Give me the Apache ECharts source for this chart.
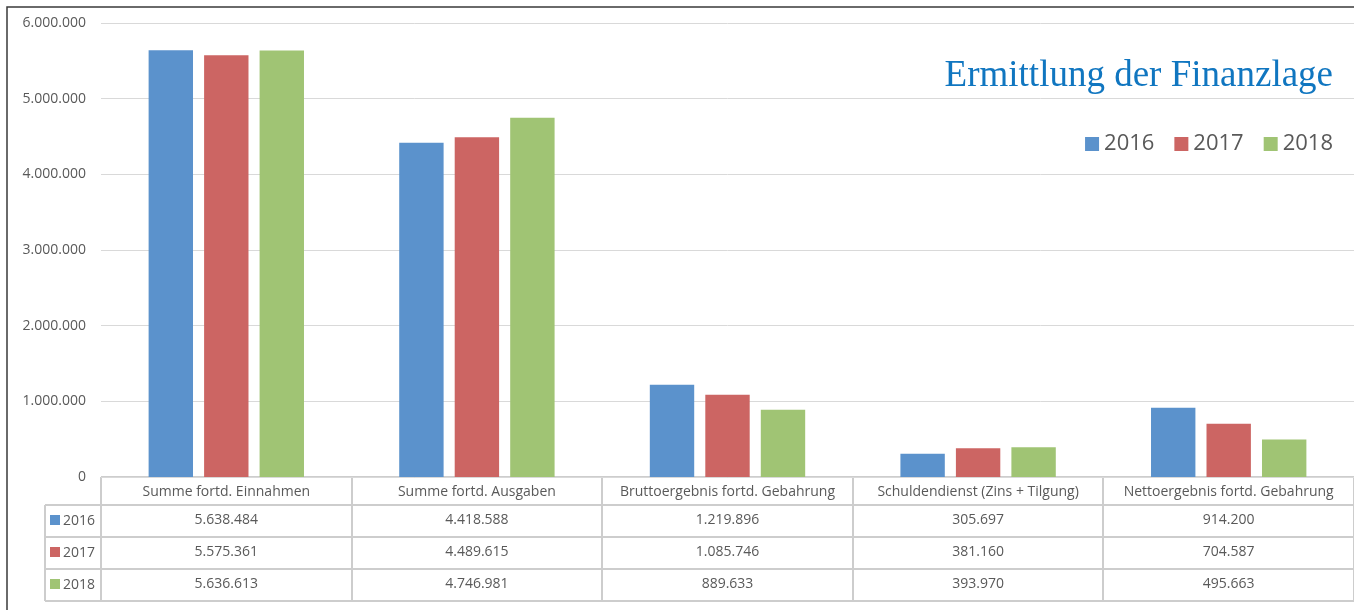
<!DOCTYPE html>
<html><head><meta charset="utf-8">
<script src="https://cdn.jsdelivr.net/npm/echarts@6/dist/echarts.min.js"></script>
<style>html,body{margin:0;padding:0;background:#fff}#c{width:1354px;height:610px}</style>
</head><body><div id="c"></div>
<script>
const categories = ['Summe fortd. Einnahmen','Summe fortd. Ausgaben','Bruttoergebnis fortd. Gebahrung','Schuldendienst (Zins + Tilgung)','Nettoergebnis fortd. Gebahrung'];
const years = ['2016','2017','2018'];
const values2016 = [5638484, 4418588, 1219896, 305697, 914200];
const values2017 = [5575361, 4489615, 1085746, 381160, 704587];
const values2018 = [5636613, 4746981, 889633, 393970, 495663];
const colors = ['#5b92cc','#cc6563','#a0c474'];
const titleText = 'Ermittlung der Finanzlage';

const seriesValues = [values2016, values2017, values2018];
const FONT = "'Liberation Sans Narrow', 'Open Sans', sans-serif";
const fmt = n => String(n).replace(/\B(?=(\d{3})+(?!\d))/g, '.');

const W = 1354, H = 610;
const gLeft = 101, gRight = 0, gTop = 23, gBottom = 133;
const plotBottom = H - gBottom;
const rowLines = [plotBottom, 505, 537, 569, 601];
const lineColor = '#cdcdcd';

const chart = echarts.init(document.getElementById('c'), null, {renderer:'canvas'});

const xAxes = [{
  type:'category', data:categories, gridIndex:0, position:'bottom',
  axisLine:{show:false}, axisTick:{show:false},
  axisLabel:{interval:0, color:'#595959', fontFamily:FONT, fontSize:14, margin:8}
}];
seriesValues.forEach((vals, i) => {
  xAxes.push({
    type:'category', data:categories, gridIndex:0, position:'bottom', offset:28 + 32*i,
    axisLine:{show:false}, axisTick:{show:false},
    axisLabel:{interval:0, color:'#595959', fontFamily:FONT, fontSize:14, margin:8,
      formatter:(v, idx) => fmt(vals[idx])}
  });
});

const graphics = [];
graphics.push({type:'rect', shape:{x:7, y:7, width:W+20, height:H+20}, style:{fill:null, stroke:'#3a3a3a', lineWidth:1.5}, silent:true, z:-1});
const cw = (W - gLeft - gRight) / categories.length;
rowLines.forEach((y, i) => {
  graphics.push({type:'line', shape:{x1: i===0 ? gLeft : 45, y1:y, x2:W, y2:y}, style:{stroke:lineColor, lineWidth:2}, silent:true});
});
for (let i = 0; i <= categories.length; i++) {
  const x = Math.round(gLeft + i*cw);
  graphics.push({type:'line', shape:{x1:x, y1:plotBottom, x2:x, y2:601}, style:{stroke:lineColor, lineWidth:2}, silent:true});
}
graphics.push({type:'line', shape:{x1:45, y1:505, x2:45, y2:601}, style:{stroke:lineColor, lineWidth:2}, silent:true});
years.forEach((y, i) => {
  const cy = 521 + 32*i;
  graphics.push({type:'rect', shape:{x:50, y:cy-6, width:10, height:10}, style:{fill:colors[i]}, silent:true});
  graphics.push({type:'text', x:63, y:cy, style:{text:y, fill:'#595959', font:'14px ' + FONT, verticalAlign:'middle', align:'left'}, silent:true});
});

chart.setOption({
  animation:false,
  color:colors,
  title:{text:titleText, right:16, top:53, textStyle:{fontFamily:"'Liberation Serif', serif", fontWeight:'normal', fontSize:37, color:'#1076c0'}},
  legend:{data:years, right:16, top:128, itemWidth:14, itemHeight:14, itemGap:20, icon:'rect',
    textStyle:{fontFamily:FONT, fontSize:22, color:'#595959'}, selectedMode:false},
  grid:{left:gLeft, right:gRight, top:gTop, bottom:gBottom, containLabel:false},
  xAxis:xAxes,
  yAxis:{type:'value', min:0, max:6000000, interval:1000000,
    axisLine:{show:false}, axisTick:{show:false},
    axisLabel:{color:'#595959', fontFamily:FONT, fontSize:14, margin:15, formatter:v => fmt(v)},
    splitLine:{lineStyle:{color:'#d9d9d9', width:1}}},
  series: years.map((y, i) => ({
    name:y, type:'bar', xAxisIndex:0, data:seriesValues[i],
    barGap:'25%', barCategoryGap:'38%', itemStyle:{color:colors[i]}
  })),
  graphic:graphics
});
</script></body></html>
